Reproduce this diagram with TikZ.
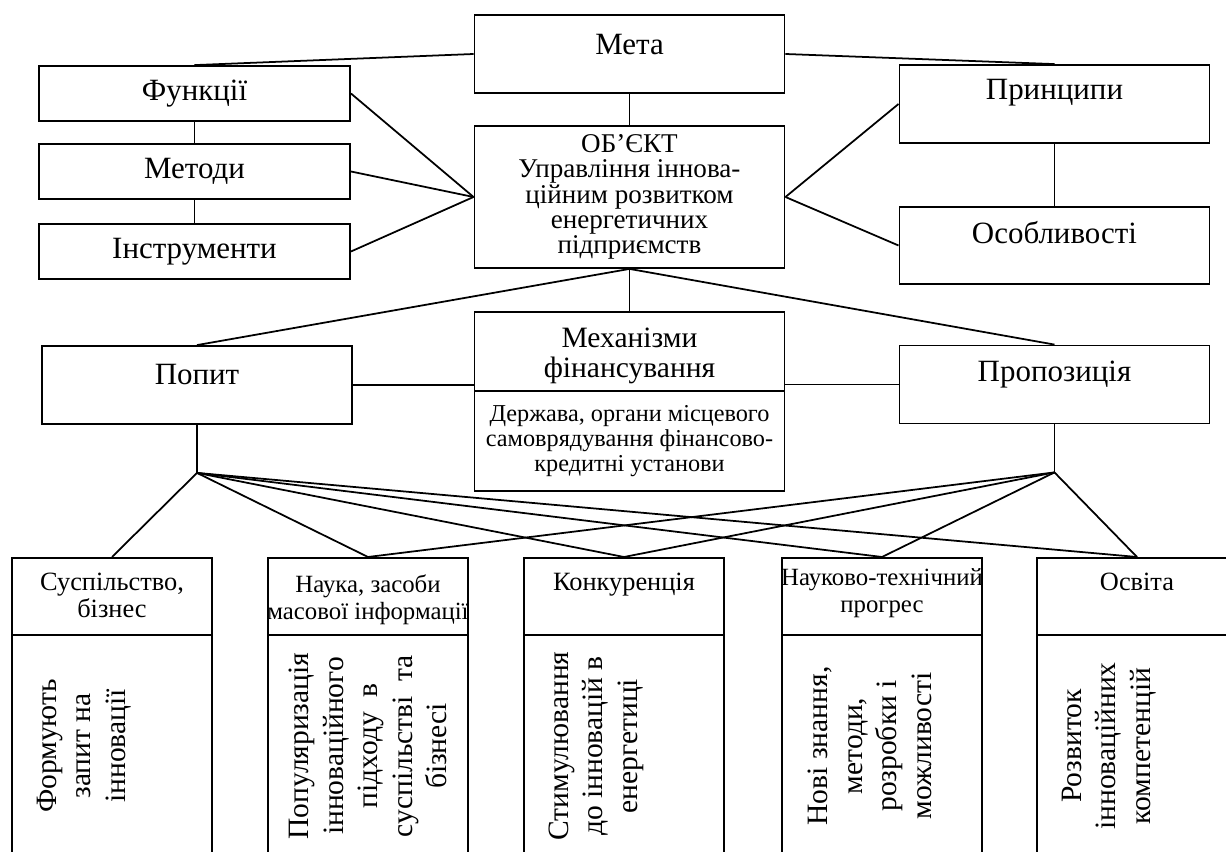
\documentclass[tikz,border=0pt]{standalone}
\usepackage{fontspec}
\setmainfont{Liberation Serif}

\begin{document}
\begin{tikzpicture}[x=0.01cm, y=-0.01cm, line width=0.5pt]
	\tikzstyle{boxStyle}=[draw, rectangle, inner sep=0pt]
	\tikzstyle{bigText}=[font=\fontsize{8.8}{10}\selectfont, inner sep=0pt]
	\tikzstyle{smallText}=[font=\fontsize{6.9}{7.1}\selectfont, align=center, inner sep=0pt]
	\tikzstyle{headText}=[font=\fontsize{7.5}{7.7}\selectfont, align=center, anchor=north, inner sep=0pt]
	\tikzstyle{vertText}=[font=\fontsize{8.4}{9.8}\selectfont, align=center, rotate=90, inner sep=0pt]
	\tikzstyle{colStyle}=[draw, rectangle, inner sep=0pt, minimum width=2cm, minimum height=3.5cm, anchor=north]
	\useasboundingbox (0,0) rectangle (1226,852);
	\clip (0,0) rectangle (1226,852);
	% upper level
	\node[boxStyle, minimum width=3.1cm, minimum height=0.78cm] (meta) at (629.5,54) {};
	\node[bigText] (metaT) at (629.5,45) {Мета};
	\node[boxStyle, bigText, minimum width=3.11cm, minimum height=0.55cm] (func) at (194.5,93.5) {Функції};
	\node[boxStyle, bigText, minimum width=3.11cm, minimum height=0.55cm] (metod) at (194.5,171.5) {Методи};
	\node[boxStyle, bigText, minimum width=3.11cm, minimum height=0.55cm] (instr) at (194.5,251.5) {Інструменти};
	\node[boxStyle, align=center, inner sep=0pt, font=\fontsize{7.7}{7.2}\selectfont, minimum width=3.1cm, minimum height=1.42cm] (obj) at (629.5,197) {ОБ’ЄКТ\\Управління іннова-\\ційним розвитком\\енергетичних\\підприємств};
	\node[boxStyle, minimum width=3.1cm, minimum height=0.78cm] (princ) at (1054.5,104) {};
	\node[bigText] (princT) at (1054.5,93) {Принципи};
	\node[boxStyle, minimum width=3.1cm, minimum height=0.77cm] (osobl) at (1054.5,245.5) {};
	\node[bigText] (osoblT) at (1054.5,233) {Особливості};
	% middle level
	\node[boxStyle, minimum width=3.1cm, minimum height=0.78cm] (popyt) at (197,385) {};
	\node[bigText] (popytT) at (197,375) {Попит};
	\node[boxStyle, minimum width=3.1cm, minimum height=0.78cm] (propoz) at (1054.5,384.5) {};
	\node[bigText] (propozT) at (1054.5,375) {Пропозиція};
	\node[boxStyle, minimum width=3.1cm, minimum height=0.79cm] (mech) at (629.5,351.5) {};
	\node[align=center, inner sep=0pt, font=\fontsize{8.4}{8.6}\selectfont] (mechT) at (629.5,356) {Механізми\\фінансування};
	\node[boxStyle, smallText, minimum width=3.1cm, minimum height=1.0cm] (mechB) at (629.5,441) {Держава, органи місцевого\\самоврядування фінансово-\\кредитні установи};
	\coordinate (popytJ) at ([yshift=-0.48cm]popyt.south);
	\coordinate (propozJ) at ([yshift=-0.48cm]propoz.south);
	% lower level
	\node[colStyle] (s1) at (112,557) {};
	\node[colStyle] (s2) at (368,557) {};
	\node[colStyle] (s3) at (624,557) {};
	\node[colStyle] (s4) at (882,557) {};
	\node[colStyle] (s5) at (1137,557) {};
	\draw ([yshift=-0.78cm]s1.north west) -- ([yshift=-0.78cm]s1.north east);
	\draw ([yshift=-0.78cm]s2.north west) -- ([yshift=-0.78cm]s2.north east);
	\draw ([yshift=-0.78cm]s3.north west) -- ([yshift=-0.78cm]s3.north east);
	\draw ([yshift=-0.78cm]s4.north west) -- ([yshift=-0.78cm]s4.north east);
	\draw ([yshift=-0.78cm]s5.north west) -- ([yshift=-0.78cm]s5.north east);
	\node[headText] (s1T) at (112,572) {Суспільство,\\бізнес};
	\node[headText, font=\fontsize{7.05}{7.7}\selectfont] (s2T) at (368,574) {Наука, засоби\\масової інформації};
	\node[headText] (s3T) at (624,572) {Конкуренція};
	\node[headText, font=\fontsize{7.05}{7.7}\selectfont] (s4T) at (882,568) {Науково-технічний\\прогрес};
	\node[headText] (s5T) at (1137,572) {Освіта};
	\node[vertText] (v1) at (84,746) {Формують\\запит на\\інновації};
	\node[vertText] (v2) at (368,746) {Популяризація\\інноваційного\\підходу\ \ в\\суспільстві\ \ та\\бізнесі};
	\node[vertText] (v3) at (596,746) {Стимулювання\\до інновацій в\\енергетиці};
	\node[vertText] (v4) at (870,746) {Нові знання,\\методи,\\розробки і\\можливості};
	\node[vertText] (v5) at (1109,746) {Розвиток\\інноваційних\\компетенцій};
	% connections
	\draw (meta.west) -- (func.north);
	\draw (meta.east) -- (princ.north);
	\draw (meta.south) -- (obj.north);
	\draw (func.south) -- (metod.north);
	\draw (metod.south) -- (instr.north);
	\draw (func.east) -- (obj.west);
	\draw (metod.east) -- (obj.west);
	\draw (instr.east) -- (obj.west);
	\draw (obj.east) -- (princ.west);
	\draw (obj.east) -- (osobl.west);
	\draw (princ.south) -- (osobl.north);
	\draw (obj.south) -- (popyt.north);
	\draw (obj.south) -- (propoz.north);
	\draw (obj.south) -- (mech.north);
	\draw (popyt.east) -- (popyt.east -| mech.west);
	\draw (propoz.west) -- (propoz.west -| mech.east);
	\draw (popyt.south) -- (popytJ);
	\draw (propoz.south) -- (propozJ);
	\draw (popytJ) -- (s1.north);
	\draw (popytJ) -- (s2.north);
	\draw (popytJ) -- (s3.north);
	\draw (popytJ) -- (s4.north);
	\draw (popytJ) -- (s5.north);
	\draw (propozJ) -- (s2.north);
	\draw (propozJ) -- (s3.north);
	\draw (propozJ) -- (s4.north);
	\draw (propozJ) -- (s5.north);
\end{tikzpicture}
\end{document}
